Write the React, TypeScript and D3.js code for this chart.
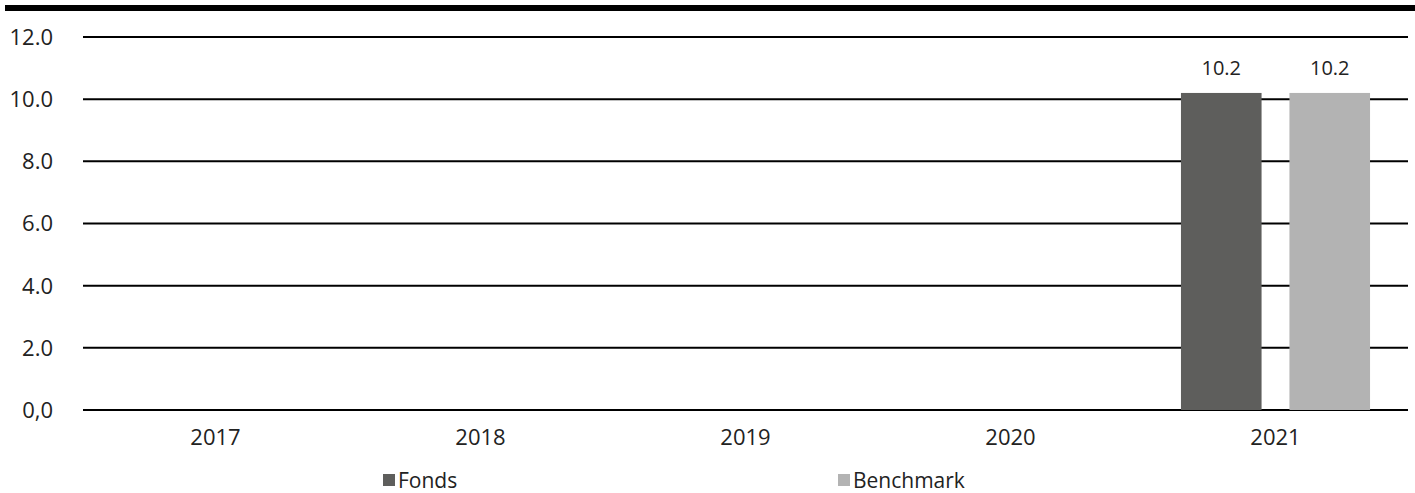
import React from "react";
import * as d3 from "d3";

const years = ["2017", "2018", "2019", "2020", "2021"];
const seriesNames = ["Fonds", "Benchmark"];
const fondsValues: (number | null)[] = [null, null, null, null, 10.2];
const benchmarkValues: (number | null)[] = [null, null, null, null, 10.2];
const yTicks = [0, 2, 4, 6, 8, 10, 12];
const yTickLabels = ["0,0", "2.0", "4.0", "6.0", "8.0", "10.0", "12.0"];
const colors = ["#5e5e5c", "#b3b3b3"];

const W = 1415;
const H = 493;

export default function App() {
  const x = d3.scaleBand<string>().domain(years).range([83, 1408]).padding(0);
  const xs = d3
    .scaleBand<string>()
    .domain(seriesNames)
    .range([0, x.bandwidth()])
    .paddingInner(0.257)
    .paddingOuter(0.35);
  const y = d3.scaleLinear().domain([0, 12]).range([410, 37]);
  const valuesBySeries = [fondsValues, benchmarkValues];
  const font = "'Open Sans', sans-serif";
  const textColor = "#222";

  return (
    <svg
      width={W}
      height={H}
      style={{ position: "absolute", left: 0, top: 0, background: "#fff" }}
      fontFamily={font}
    >
      <rect x={5} y={5} width={W - 5} height={6} fill="#000" />
      {yTicks.map((t, i) => (
        <g key={t}>
          <line x1={83} x2={1408} y1={y(t)} y2={y(t)} stroke="#000" strokeWidth={2} />
          <text
            x={53}
            y={y(t)}
            dy="0.36em"
            textAnchor="end"
            fontSize={22}
            fill={textColor}
          >
            {yTickLabels[i]}
          </text>
        </g>
      ))}
      {years.map((yr, i) =>
        seriesNames.map((s, j) => {
          const v = valuesBySeries[j][i];
          if (v == null) return null;
          const bx = (x(yr) as number) + (xs(s) as number);
          return (
            <g key={yr + s}>
              <rect
                x={bx}
                y={y(v)}
                width={xs.bandwidth()}
                height={y(0) - y(v)}
                fill={colors[j]}
              />
              <text
                x={bx + xs.bandwidth() / 2}
                y={y(v) - 25}
                dy="0.36em"
                textAnchor="middle"
                fontSize={20}
                fill={textColor}
              >
                {v.toFixed(1)}
              </text>
            </g>
          );
        })
      )}
      {years.map((yr) => (
        <text
          key={yr}
          x={(x(yr) as number) + x.bandwidth() / 2}
          y={437}
          dy="0.36em"
          textAnchor="middle"
          fontSize={22}
          fill={textColor}
        >
          {yr}
        </text>
      ))}
      {seriesNames.map((s, j) => {
        const lx = [383, 838][j];
        return (
          <g key={s}>
            <rect x={lx} y={474} width={12} height={12} fill={colors[j]} />
            <text x={lx + 15} y={480} dy="0.36em" fontSize={21} fill={textColor}>
              {s}
            </text>
          </g>
        );
      })}
    </svg>
  );
}
